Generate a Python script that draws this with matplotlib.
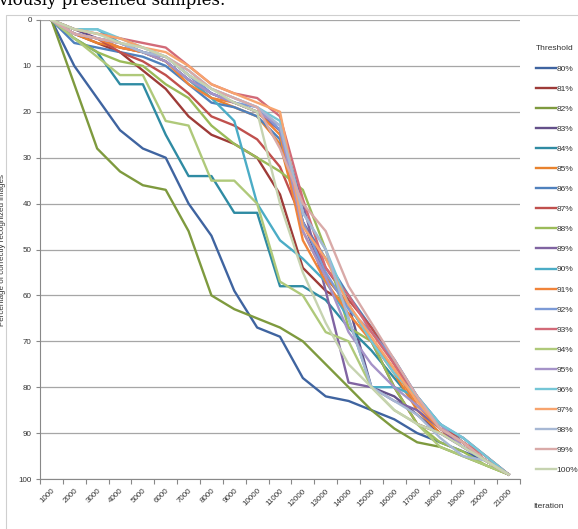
import matplotlib
matplotlib.use("Agg")
import matplotlib.pyplot as plt
from matplotlib.patches import Rectangle

iterations = [1000, 2000, 3000, 4000, 5000, 6000, 7000, 8000, 9000, 10000, 11000,
              12000, 13000, 14000, 15000, 16000, 17000, 18000, 19000, 20000, 21000]
x_labels = [str(v) for v in iterations]
thresholds = ["80%", "81%", "82%", "83%", "84%", "85%", "86%", "87%", "88%", "89%", "90%",
              "91%", "92%", "93%", "94%", "95%", "96%", "97%", "98%", "99%", "100%"]

s80 = [0, 10, 17, 24, 28, 30, 40, 47, 59, 67, 69, 78, 82, 83, 85, 87, 90, 92, 94, 96, 99]
s81 = [0, 3, 5, 7, 11, 15, 21, 25, 27, 30, 38, 54, 59, 62, 70, 80, 88, 90, 92, 96, 99]
s82 = [0, 14, 28, 33, 36, 37, 46, 60, 63, 65, 67, 70, 75, 80, 85, 89, 92, 93, 95, 97, 99]
s83 = [0, 2, 4, 6, 7, 8, 12, 16, 18, 20, 24, 44, 56, 62, 80, 82, 86, 90, 93, 96, 99]
s84 = [0, 4, 7, 14, 14, 25, 34, 34, 42, 42, 58, 58, 61, 67, 72, 78, 84, 88, 92, 96, 99]
s85 = [0, 3, 5, 6, 7, 9, 13, 17, 19, 21, 27, 46, 56, 62, 70, 77, 85, 90, 92, 96, 99]
s86 = [0, 5, 6, 7, 8, 10, 14, 18, 19, 21, 26, 44, 52, 60, 67, 74, 82, 88, 92, 96, 99]
s87 = [0, 3, 4, 7, 9, 12, 16, 21, 23, 26, 32, 44, 54, 61, 67, 75, 82, 89, 91, 95, 99]
s88 = [0, 4, 7, 9, 10, 14, 17, 23, 27, 30, 33, 37, 50, 67, 70, 80, 88, 92, 94, 97, 99]
s89 = [0, 3, 4, 5, 7, 9, 13, 16, 18, 20, 24, 40, 59, 79, 80, 83, 85, 89, 93, 96, 99]
s90 = [0, 2, 2, 5, 7, 9, 13, 17, 22, 40, 48, 52, 57, 65, 80, 80, 82, 89, 92, 96, 99]
s91 = [0, 3, 4, 6, 7, 9, 14, 17, 18, 20, 25, 48, 57, 64, 70, 76, 84, 89, 92, 96, 99]
s92 = [0, 3, 4, 5, 7, 8, 12, 16, 18, 19, 24, 44, 55, 63, 68, 74, 82, 88, 91, 95, 99]
s93 = [0, 2, 3, 4, 5, 6, 10, 14, 16, 17, 21, 39, 54, 60, 68, 75, 83, 89, 92, 95, 99]
s94 = [0, 4, 8, 12, 12, 22, 23, 35, 35, 40, 57, 60, 68, 70, 80, 85, 88, 93, 95, 97, 99]
s95 = [0, 3, 4, 5, 7, 9, 13, 16, 18, 20, 23, 46, 56, 68, 75, 80, 84, 88, 93, 96, 99]
s96 = [0, 2, 2, 4, 6, 8, 11, 15, 17, 19, 22, 42, 50, 62, 70, 77, 82, 88, 91, 95, 99]
s97 = [0, 2, 3, 4, 6, 7, 10, 14, 16, 18, 20, 45, 52, 62, 69, 76, 83, 89, 92, 96, 99]
s98 = [0, 3, 4, 5, 7, 8, 12, 15, 17, 19, 23, 42, 50, 65, 80, 83, 86, 91, 95, 96, 99]
s99 = [0, 3, 4, 5, 6, 8, 11, 15, 17, 19, 28, 40, 46, 58, 66, 74, 82, 89, 92, 96, 99]
s100 = [0, 2, 3, 5, 6, 8, 12, 15, 18, 20, 40, 55, 66, 75, 80, 85, 88, 90, 93, 96, 99]

series = [s80, s81, s82, s83, s84, s85, s86, s87, s88, s89, s90,
          s91, s92, s93, s94, s95, s96, s97, s98, s99, s100]

colors = ["#3F64A0", "#9E3B38", "#7E9A3E", "#64508A", "#2F8BA3", "#E8822E",
          "#4F81BD", "#C0504D", "#9BBB59", "#8064A2", "#4BACC6", "#F0843A",
          "#7C9AD6", "#D26A78", "#AFC97A", "#A593C8", "#75C6D6", "#F7A46E",
          "#A7B8D4", "#D9AAA8", "#C6D3B0"]

W, H = 578, 529
fig = plt.figure(figsize=(W / 100, H / 100), dpi=100)
fig.patch.set_facecolor("white")

# chart frame
fig.patches.append(Rectangle((6 / W, -0.05), 1.2, 1 - 15 / H + 0.05, transform=fig.transFigure,
                             fill=False, edgecolor="#CFCFCF", linewidth=0.8))

ax = fig.add_axes([40 / W, 1 - 479 / H, (520 - 40) / W, (479 - 20) / H])
xs = list(range(len(iterations)))
for vals, c, lab in zip(series, colors, thresholds):
    ax.plot(xs, vals, color=c, linewidth=1.7, label=lab, solid_joinstyle="round")

ax.set_xlim(-0.5, len(iterations) - 0.5)
ax.set_ylim(100, 0)
ax.set_yticks(range(0, 101, 10))
ax.set_xticks(xs)
ax.set_xticklabels(x_labels, rotation=45, ha="right", rotation_mode="anchor",
                   fontsize=5.8, color="#333333", family="Liberation Sans")
ax.set_xticks([i - 0.5 for i in range(len(iterations) + 1)], minor=True)
ax.tick_params(axis="x", which="major", length=0, pad=6)
ax.tick_params(axis="x", which="minor", length=3.5, color="#888888", width=0.8)
ax.tick_params(axis="y", length=3, color="#888888", width=0.8, labelsize=5.8,
               labelcolor="#333333", pad=3)
for lbl in ax.get_yticklabels():
    lbl.set_family("Liberation Sans")
ax.grid(axis="y", color="#A6A6A6", linewidth=0.9)
ax.set_axisbelow(True)
for side in ["top", "right"]:
    ax.spines[side].set_visible(False)
ax.spines["left"].set_color("#888888")
ax.spines["bottom"].set_color("#888888")
ax.spines["left"].set_linewidth(0.8)
ax.spines["bottom"].set_linewidth(0.8)

ax.set_ylabel("Percentage of correctly recognized images", fontsize=5.8, color="#333333",
              family="Liberation Sans", labelpad=9)

leg = ax.legend(loc="upper left", bbox_to_anchor=(528 / W, 1 - 38 / H),
                bbox_transform=fig.transFigure, frameon=False, fontsize=6,
                title="Threshold", title_fontsize=6, handlelength=2.4,
                handletextpad=0.1, labelspacing=1.47, alignment="left",
                prop={"family": "Liberation Sans", "size": 6})
leg.get_title().set_color("#333333")
leg.get_title().set_family("Liberation Sans")
for t in leg.get_texts():
    t.set_color("#333333")

fig.text(533 / W, 1 - 506 / H, "Iteration", fontsize=6, color="#333333",
         family="Liberation Sans", va="center", ha="left")

fig.text(-2 / W, 1 - 5 / H, "viously presented samples.", fontsize=12,
         family="DejaVu Serif", va="baseline", ha="left", color="black")

fig.savefig("out.png", dpi=100)
